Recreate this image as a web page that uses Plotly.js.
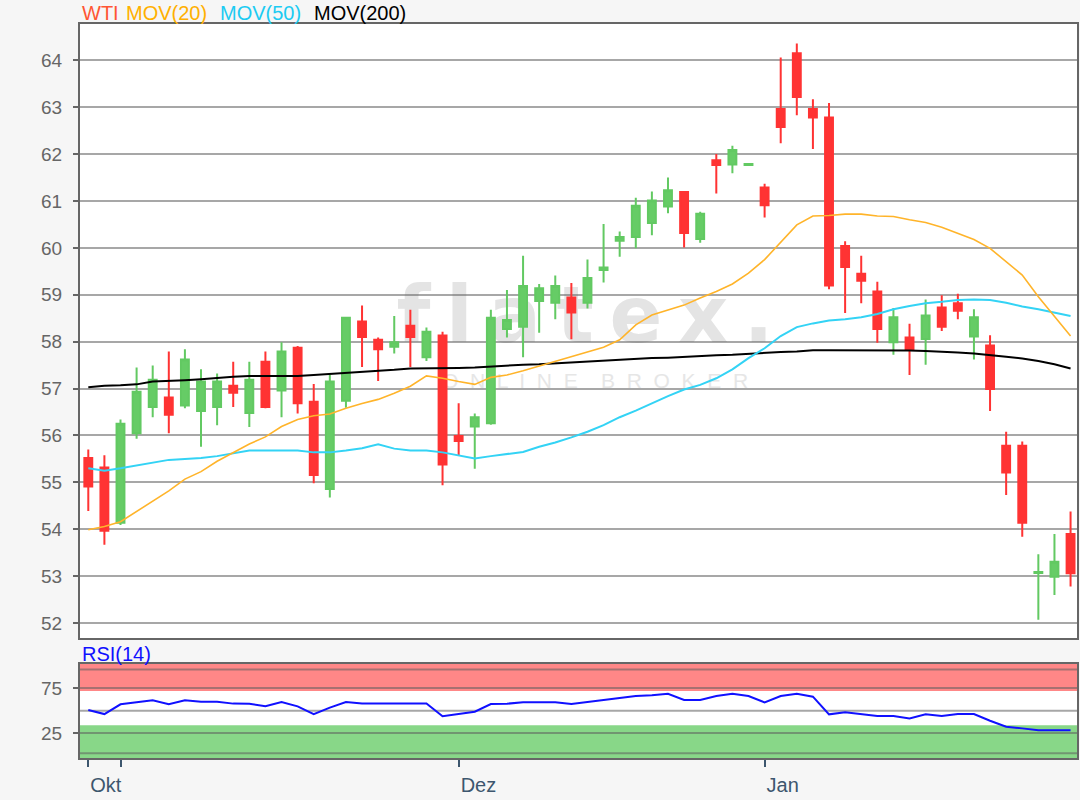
<!DOCTYPE html>
<html>
<head>
<meta charset="utf-8">
<script src="https://cdn.plot.ly/plotly-3.0.1.min.js"></script>
<style>
  html, body { margin: 0; padding: 0; background: #f6f6f6; }
  #chart { width: 1080px; height: 800px; }
</style>
</head>
<body>
<div id="chart"></div>
<script>
// ---- data ----
const openV  = [55.52,55.32,54.14,56.05,56.61,56.81,56.64,56.52,56.61,57.06,56.48,57.57,56.96,57.87,56.72,54.86,56.74,58.43,58.04,57.89,58.34,57.67,58.13,55.99,56.19,56.26,58.27,58.32,58.87,58.83,58.94,58.83,59.53,60.15,60.23,60.53,60.88,61.19,60.19,61.87,61.78,61.77,61.29,62.96,64.15,62.96,62.78,60.04,59.45,59.07,57.99,58.09,58.06,58.73,58.82,58.11,57.92,55.78,55.78,53.07,52.99,53.90];
const highV  = [55.70,55.58,56.34,57.45,57.49,57.79,57.84,57.41,57.32,57.57,57.57,57.79,57.99,57.91,57.10,57.29,58.53,58.77,58.09,58.55,58.68,58.30,58.21,56.69,56.47,58.68,59.10,59.83,59.23,59.41,59.25,59.75,60.51,60.35,61.07,61.20,61.50,61.21,60.77,62.00,62.18,61.80,61.37,64.06,64.36,63.17,63.09,60.14,59.83,59.28,58.72,58.38,58.90,58.99,59.02,58.69,58.14,56.08,55.87,53.47,53.90,54.38];
const lowV   = [54.39,53.67,54.09,55.93,56.39,56.05,56.58,55.76,56.22,56.61,56.18,56.58,56.39,56.47,54.98,54.68,56.59,57.46,57.16,57.75,57.46,57.59,54.94,55.58,55.29,56.23,58.09,57.67,58.19,58.48,58.05,58.71,59.26,59.81,59.99,60.27,60.74,60.01,60.11,61.16,61.59,61.76,60.65,62.23,62.83,62.11,59.12,58.61,58.82,57.98,57.72,57.29,57.51,58.23,58.48,57.62,56.52,54.73,53.84,52.07,52.60,52.78];
const closeV = [54.91,53.97,56.25,56.93,57.19,56.44,57.62,57.15,57.15,56.91,57.19,56.61,57.79,56.69,55.16,57.15,58.51,58.10,57.84,57.99,58.10,58.21,55.38,55.88,56.39,58.51,58.46,59.19,59.14,59.19,58.62,59.36,59.58,60.23,60.90,61.01,61.23,60.32,60.73,61.77,62.09,61.79,60.91,62.58,63.22,62.78,59.20,59.59,59.30,58.27,58.52,57.83,58.56,58.32,58.66,58.52,56.99,55.21,54.14,53.09,53.31,53.06];

const mov20  = [53.99,54.06,54.16,54.38,54.60,54.82,55.07,55.23,55.45,55.63,55.82,55.97,56.19,56.34,56.42,56.46,56.58,56.68,56.77,56.90,57.05,57.27,57.22,57.15,57.09,57.24,57.29,57.38,57.48,57.59,57.68,57.79,57.88,58.04,58.36,58.57,58.68,58.78,58.93,59.07,59.23,59.46,59.75,60.13,60.49,60.68,60.69,60.72,60.72,60.68,60.67,60.60,60.54,60.44,60.31,60.18,59.99,59.71,59.42,58.96,58.53,58.12];
const mov50  = [55.30,55.25,55.30,55.36,55.43,55.48,55.50,55.52,55.56,55.62,55.68,55.68,55.68,55.68,55.64,55.64,55.68,55.73,55.81,55.72,55.68,55.68,55.64,55.58,55.51,55.56,55.60,55.65,55.76,55.85,55.96,56.08,56.22,56.39,56.53,56.69,56.84,56.98,57.08,57.22,57.41,57.65,57.86,58.12,58.31,58.39,58.45,58.48,58.52,58.59,58.69,58.76,58.82,58.85,58.89,58.90,58.89,58.83,58.75,58.69,58.62,58.55];
const mov200 = [57.03,57.06,57.07,57.09,57.15,57.16,57.18,57.20,57.23,57.25,57.27,57.27,57.27,57.27,57.29,57.31,57.33,57.36,57.38,57.40,57.43,57.43,57.43,57.44,57.45,57.47,57.50,57.51,57.52,57.54,57.55,57.57,57.59,57.61,57.63,57.65,57.66,57.68,57.69,57.71,57.72,57.74,57.77,57.78,57.79,57.82,57.82,57.82,57.82,57.82,57.82,57.81,57.80,57.79,57.77,57.75,57.72,57.68,57.64,57.59,57.52,57.43];
const rsi14  = [50.9,46.4,57.2,59.4,61.7,57.2,61.7,60.0,60.0,58.0,57.8,55.0,59.8,55.0,46.4,53.5,59.8,58.2,58.2,58.2,58.2,58.2,44.0,46.1,49.0,57.5,57.9,59.4,59.4,59.4,57.5,59.4,62.0,64.2,66.4,67.2,69.0,62.0,62.0,66.4,69.0,66.4,59.4,66.4,69.0,65.7,46.1,48.3,46.1,44.2,44.2,41.6,46.1,44.2,46.4,46.4,39.0,32.4,30.5,28.3,28.3,28.3];

const tickPos   = [0, 2, 23, 42];
const tickLabel = ['Okt', '', 'Dez', 'Jan'];
const priceTicks = [52,53,54,55,56,57,58,59,60,61,62,63,64];
const rsiTicks = [25, 75];

const idx = openV.map((_, i) => i);

// ---- styles ----
const FONT = 'Liberation Sans, Arial, sans-serif';
const GRID = 'rgba(95,95,95,0.55)';
const FRAME = '#666666';
const AXISBLUE = '#3d566e';
const xRange = [-0.515, 61.4];

const traces = [
  {
    type: 'candlestick', x: idx, open: openV, high: highV, low: lowV, close: closeV,
    xaxis: 'x', yaxis: 'y',
    increasing: { line: { color: '#62c962', width: 2 }, fillcolor: '#66cc66' },
    decreasing: { line: { color: '#ff3333', width: 2 }, fillcolor: '#ff3333' },
    whiskerwidth: 0, hoverinfo: 'skip', showlegend: false
  },
  { type: 'scatter', mode: 'lines', x: idx, y: mov200, xaxis: 'x', yaxis: 'y',
    line: { color: '#000000', width: 2 }, hoverinfo: 'skip', showlegend: false },
  { type: 'scatter', mode: 'lines', x: idx, y: mov50, xaxis: 'x', yaxis: 'y',
    line: { color: '#33d3f5', width: 2 }, hoverinfo: 'skip', showlegend: false },
  { type: 'scatter', mode: 'lines', x: idx, y: mov20, xaxis: 'x', yaxis: 'y',
    line: { color: '#ffb42a', width: 1.6 }, hoverinfo: 'skip', showlegend: false },
  { type: 'scatter', mode: 'lines', x: idx, y: rsi14, xaxis: 'x2', yaxis: 'y2',
    line: { color: '#1010ff', width: 2 }, hoverinfo: 'skip', showlegend: false }
];

// plot area: x 80..1077, y 24..758
const PX = px => (px - 80) / 997;
const PY = py => (758 - py) / 734;

const layout = {
  width: 1080, height: 800,
  paper_bgcolor: '#f6f6f6', plot_bgcolor: '#ffffff',
  margin: { l: 80, r: 3, t: 24, b: 42, pad: 0 },
  showlegend: false,
  boxgap: 0.3,
  font: { family: FONT, size: 19, color: '#666666' },
  xaxis: {
    domain: [0, 1], anchor: 'y', range: xRange,
    showticklabels: false, ticks: '', showgrid: false, zeroline: false,
    showline: true, mirror: true, linecolor: FRAME, linewidth: 2,
    rangeslider: { visible: false }, fixedrange: true
  },
  yaxis: {
    domain: [PY(638), 1], anchor: 'x', range: [51.682, 64.774],
    tickvals: priceTicks, ticktext: priceTicks.map(String),
    ticks: 'outside', ticklen: 5, tickwidth: 2, tickcolor: FRAME,
    ticklabelstandoff: 7,
    tickfont: { family: FONT, size: 19, color: '#666666' },
    showgrid: true, gridcolor: GRID, gridwidth: 2, zeroline: false,
    showline: true, mirror: true, linecolor: FRAME, linewidth: 2, fixedrange: true
  },
  xaxis2: {
    domain: [0, 1], anchor: 'y2', range: xRange, matches: 'x',
    tickvals: tickPos, ticktext: tickLabel,
    ticks: 'outside', ticklen: 7, tickwidth: 2, tickcolor: AXISBLUE,
    ticklabelposition: 'outside right',
    ticklabelstandoff: 8,
    tickfont: { family: FONT, size: 20, color: AXISBLUE },
    showgrid: false, zeroline: false,
    showline: true, mirror: true, linecolor: FRAME, linewidth: 2,
    rangeslider: { visible: false }, fixedrange: true
  },
  yaxis2: {
    domain: [0, PY(664)], anchor: 'x2', range: [-2.4, 102],
    tickvals: rsiTicks, ticktext: rsiTicks.map(String),
    ticks: 'outside', ticklen: 5, tickwidth: 2, tickcolor: FRAME,
    ticklabelstandoff: 7,
    tickfont: { family: FONT, size: 19, color: '#666666' },
    showgrid: true, gridcolor: GRID, gridwidth: 2, zeroline: false,
    showline: true, mirror: true, linecolor: FRAME, linewidth: 2, fixedrange: true
  },
  shapes: [
    // watermark
    { type: 'rect', xref: 'paper', yref: 'paper', x0: PX(395), x1: PX(775), y0: PY(345), y1: PY(272),
      line: { width: 0 }, fillcolor: 'rgba(0,0,0,0)', layer: 'below',
      label: { text: 'f\u2009l\u2009a\u2009t\u2009e\u2009x\u2009.', textposition: 'middle center',
               font: { family: 'DejaVu Sans', size: 78, weight: 'bold', color: '#e4e4e4' } } },
    { type: 'rect', xref: 'paper', yref: 'paper', x0: PX(440), x1: PX(750), y0: PY(390), y1: PY(366),
      line: { width: 0 }, fillcolor: 'rgba(0,0,0,0)', layer: 'below',
      label: { text: 'O  N  L  I  N  E    B  R  O  K  E  R', textposition: 'middle center',
               font: { family: FONT, size: 21, color: '#e6e6e6' } } },
    // RSI bands
    { type: 'rect', xref: 'paper', yref: 'y2', x0: 0, x1: 1, y0: 72, y1: 102,
      line: { width: 0 }, fillcolor: '#ff8787', layer: 'below' },
    { type: 'rect', xref: 'paper', yref: 'y2', x0: 0, x1: 1, y0: -2.4, y1: 34,
      line: { width: 0 }, fillcolor: '#88d788', layer: 'below' },
    // RSI extra lines
    { type: 'line', xref: 'paper', yref: 'y2', x0: 0, x1: 1, y0: 50, y1: 50,
      line: { color: GRID, width: 2 }, layer: 'between' },
    { type: 'line', xref: 'paper', yref: 'y2', x0: 0, x1: 1, y0: 96, y1: 96,
      line: { color: GRID, width: 2 }, layer: 'between' },
    { type: 'line', xref: 'paper', yref: 'y2', x0: 0, x1: 1, y0: 2.8, y1: 2.8,
      line: { color: GRID, width: 2 }, layer: 'between' }
  ],
  annotations: [
    { text: 'WTI', xref: 'paper', yref: 'paper', x: PX(80), y: PY(13), xanchor: 'left', yanchor: 'middle',
      showarrow: false, font: { family: FONT, size: 20, color: '#ff5533' } },
    { text: 'MOV(20)', xref: 'paper', yref: 'paper', x: PX(124), y: PY(13), xanchor: 'left', yanchor: 'middle',
      showarrow: false, font: { family: FONT, size: 20, color: '#ffb000' } },
    { text: 'MOV(50)', xref: 'paper', yref: 'paper', x: PX(218), y: PY(13), xanchor: 'left', yanchor: 'middle',
      showarrow: false, font: { family: FONT, size: 20, color: '#1ccbf2' } },
    { text: 'MOV(200)', xref: 'paper', yref: 'paper', x: PX(312), y: PY(13), xanchor: 'left', yanchor: 'middle',
      showarrow: false, font: { family: FONT, size: 20, color: '#000000' } },
    { text: 'RSI(14)', xref: 'paper', yref: 'paper', x: PX(80), y: PY(654), xanchor: 'left', yanchor: 'middle',
      showarrow: false, font: { family: FONT, size: 20, color: '#1010ff' } }
  ]
};

Plotly.newPlot('chart', traces, layout, { displayModeBar: false, staticPlot: true });
</script>
</body>
</html>
